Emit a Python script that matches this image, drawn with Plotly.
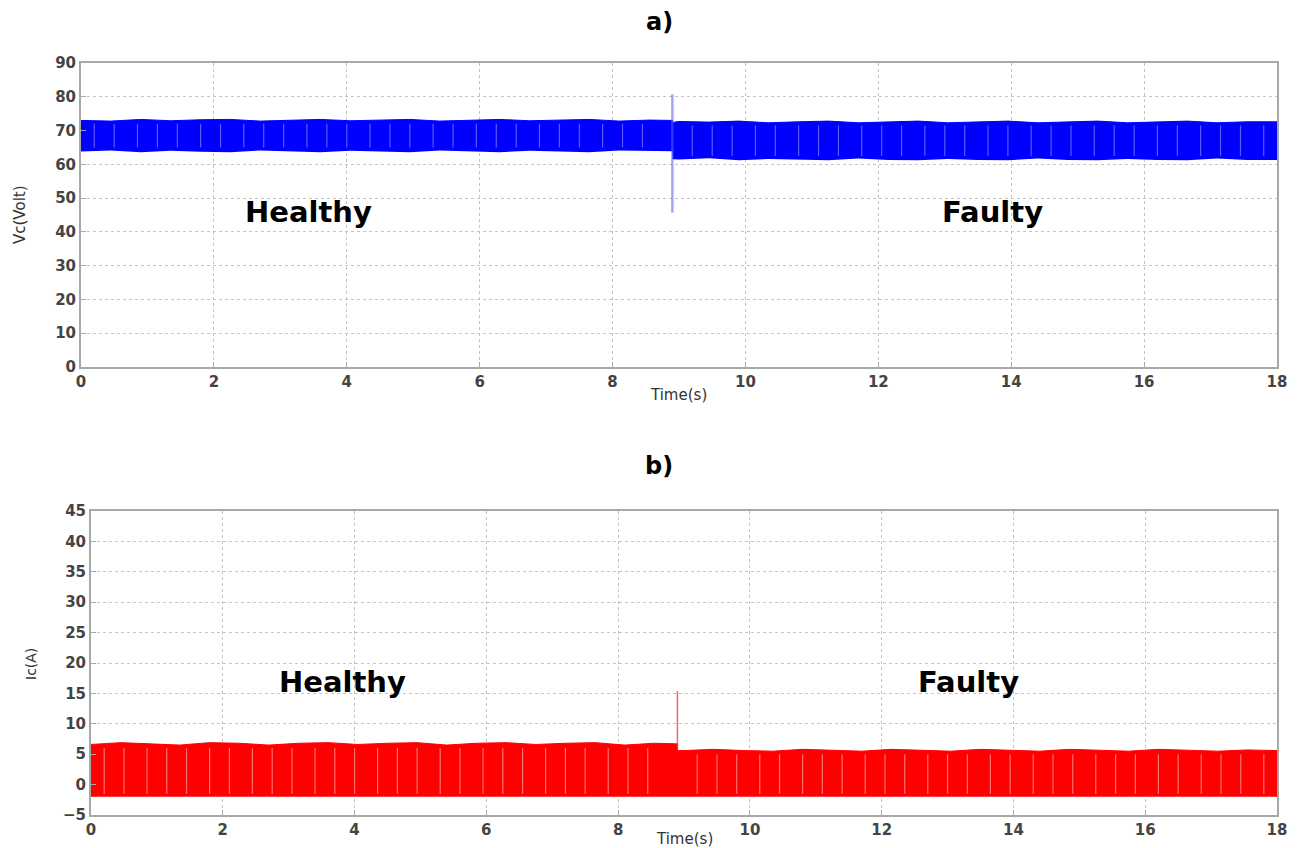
import plotly.graph_objects as go

# ---- data: envelope of the oscillating signals ----
t_env = [0.0, 0.45, 0.9, 1.35, 1.8, 2.25, 2.7, 3.15, 3.6, 4.05, 4.5, 4.95, 5.4, 5.85,
         6.3, 6.75, 7.2, 7.65, 8.1, 8.55, 8.9, 8.9, 9.0, 9.45, 9.9, 10.35, 10.8, 11.25,
         11.7, 12.15, 12.6, 13.05, 13.5, 13.95, 14.4, 14.85, 15.3, 15.75, 16.2, 16.65,
         17.1, 17.55, 18.0]

vc_upper = [73.0, 72.8, 73.3, 72.9, 73.2, 73.3, 72.8, 73.1, 73.3, 72.9,
            73.2, 73.3, 72.8, 73.1, 73.3, 72.9, 73.2, 73.3, 72.8, 73.1, 73.0, 72.4,
            72.7, 72.5, 72.8, 72.3, 72.6, 72.8, 72.3, 72.6, 72.8, 72.3,
            72.6, 72.8, 72.3, 72.6, 72.8, 72.3, 72.6, 72.8, 72.3, 72.6, 72.6]
vc_lower = [63.8, 64.1, 63.6, 64.0, 63.7, 63.6, 64.1, 63.8, 63.6, 64.0,
            63.7, 63.6, 64.1, 63.8, 63.6, 64.0, 63.7, 63.6, 64.1, 63.9, 63.9, 61.5,
            61.4, 61.8, 61.2, 61.6, 61.3, 61.2, 61.7, 61.3, 61.2, 61.6,
            61.3, 61.2, 61.7, 61.3, 61.2, 61.6, 61.3, 61.2, 61.7, 61.3, 61.3]

ic_upper = [6.6, 6.9, 6.7, 6.5, 6.9, 6.8, 6.5, 6.8, 6.9, 6.6,
            6.8, 6.9, 6.5, 6.8, 6.9, 6.6, 6.8, 6.9, 6.5, 6.8, 6.7, 5.6,
            5.6, 5.8, 5.6, 5.5, 5.8, 5.7, 5.5, 5.8, 5.7, 5.5,
            5.8, 5.7, 5.5, 5.8, 5.7, 5.5, 5.8, 5.7, 5.5, 5.7, 5.6]
ic_lower = [-2.0] * len(t_env)

# visible light stripes inside the dense oscillation (aliasing of the switching ripple)
stripe_t = [0.2, 0.5, 0.85, 1.15, 1.45, 1.8, 2.1, 2.45, 2.75, 3.05, 3.4, 3.7,
            4.0, 4.35, 4.65, 4.95, 5.3, 5.6, 5.95, 6.25, 6.55, 6.9, 7.2, 7.5,
            7.85, 8.15, 8.45, 9.2, 9.5, 9.8, 10.15, 10.45, 10.8, 11.1, 11.4,
            11.75, 12.05, 12.35, 12.7, 13.0, 13.3, 13.65, 13.95, 14.3, 14.6,
            14.9, 15.25, 15.55, 15.85, 16.2, 16.5, 16.85, 17.15, 17.45, 17.8]
vc_stripe_pre = [65.0, 72.0]
vc_stripe_post = [62.5, 71.5]
ic_stripe_pre = [-1.5, 6.0]
ic_stripe_post = [-1.5, 5.0]

fault_t = 8.9
vc_spike = [45.7, 80.7]
ic_spike = [6.0, 15.4]

x_ticks = [0, 2, 4, 6, 8, 10, 12, 14, 16, 18]
vc_ticks = [0, 10, 20, 30, 40, 50, 60, 70, 80, 90]
ic_ticks = [-5, 0, 5, 10, 15, 20, 25, 30, 35, 40, 45]

# page body has an 8px margin; figure is sized to fit the window
W, H = 1297, 840


def px(x):
    return (x - 8) / W


def py(y):
    return 1 - (y - 8) / H


def stripes(ts, pre, post):
    xs, ys = [], []
    for t in ts:
        lo, hi = pre if t < fault_t else post
        xs += [t, t, None]
        ys += [lo, hi, None]
    return xs, ys


fig = go.Figure()

# top: Vc
fig.add_trace(go.Scatter(x=t_env, y=vc_lower, mode="lines", line=dict(width=0, color="#0000ff"),
                         xaxis="x", yaxis="y", showlegend=False, hoverinfo="skip"))
fig.add_trace(go.Scatter(x=t_env, y=vc_upper, mode="lines", line=dict(width=1, color="#0000ff"),
                         fill="tonexty", fillcolor="#0000ff", xaxis="x", yaxis="y", showlegend=False))
sx, sy = stripes(stripe_t, vc_stripe_pre, vc_stripe_post)
fig.add_trace(go.Scatter(x=sx, y=sy, mode="lines", line=dict(width=1.2, color="#5a5aff"),
                         xaxis="x", yaxis="y", showlegend=False, hoverinfo="skip"))
fig.add_trace(go.Scatter(x=[fault_t, fault_t], y=vc_spike, mode="lines",
                         line=dict(width=2.5, color="rgba(90,90,255,0.55)"),
                         xaxis="x", yaxis="y", showlegend=False))

# bottom: Ic
fig.add_trace(go.Scatter(x=t_env, y=ic_lower, mode="lines", line=dict(width=0, color="#ff0000"),
                         xaxis="x2", yaxis="y2", showlegend=False, hoverinfo="skip"))
fig.add_trace(go.Scatter(x=t_env, y=ic_upper, mode="lines", line=dict(width=1, color="#ff0000"),
                         fill="tonexty", fillcolor="#ff0000", xaxis="x2", yaxis="y2", showlegend=False))
sx, sy = stripes(stripe_t, ic_stripe_pre, ic_stripe_post)
fig.add_trace(go.Scatter(x=sx, y=sy, mode="lines", line=dict(width=1.2, color="#ff7070"),
                         xaxis="x2", yaxis="y2", showlegend=False, hoverinfo="skip"))
fig.add_trace(go.Scatter(x=[fault_t, fault_t], y=ic_spike, mode="lines",
                         line=dict(width=1.5, color="rgba(255,60,60,0.8)"),
                         xaxis="x2", yaxis="y2", showlegend=False))

tickfont = dict(family="DejaVu Sans", size=15, color="#444444", weight="bold")
axis_common = dict(showgrid=True, gridcolor="#c4c4c4", griddash="dot", gridwidth=1,
                   showline=True, linecolor="#a8a8a8", linewidth=2, mirror=True,
                   ticks="inside", ticklen=5, tickcolor="#a8a8a8", zeroline=False,
                   tickfont=tickfont, automargin=False)

fig.update_layout(
    width=W, height=H,
    margin=dict(l=0, r=0, t=0, b=0, autoexpand=False),
    paper_bgcolor="white", plot_bgcolor="white",
    xaxis=dict(domain=[px(81), px(1277)], range=[0, 18], tickvals=x_ticks, anchor="y", **axis_common),
    yaxis=dict(domain=[py(367), py(63)], range=[0, 90], tickvals=vc_ticks, anchor="x", **axis_common),
    xaxis2=dict(domain=[px(91), px(1277)], range=[0, 18], tickvals=x_ticks, anchor="y2", **axis_common),
    yaxis2=dict(domain=[py(815), py(511)], range=[-5, 45], tickvals=ic_ticks, anchor="x2", **axis_common),
)

ann_font = dict(family="DejaVu Sans", size=29, color="black", weight="bold")
title_font = dict(family="DejaVu Sans", size=24, color="black", weight="bold")
label_font = dict(family="DejaVu Sans", size=15, color="#333333")
annotations = [
    dict(text="a)", x=px(659), y=py(22), font=title_font),
    dict(text="b)", x=px(659), y=py(466), font=title_font),
    dict(text="Healthy", x=px(308), y=py(212), font=ann_font),
    dict(text="Faulty", x=px(992), y=py(212), font=ann_font),
    dict(text="Healthy", x=px(342), y=py(682), font=ann_font),
    dict(text="Faulty", x=px(968), y=py(682), font=ann_font),
    dict(text="Vc(Volt)", x=px(20), y=py(215), textangle=-90, font=label_font),
    dict(text="Ic(A)", x=px(31), y=py(664), textangle=-90,
         font=dict(family="DejaVu Sans", size=14, color="#333333")),
    dict(text="Time(s)", x=px(678), y=py(395), font=label_font),
    dict(text="Time(s)", x=px(684), y=py(839), font=label_font),
]
for a in annotations:
    a.update(xref="paper", yref="paper", xanchor="center", yanchor="middle", showarrow=False)
fig.update_layout(annotations=annotations)

fig.write_html("out.html")
